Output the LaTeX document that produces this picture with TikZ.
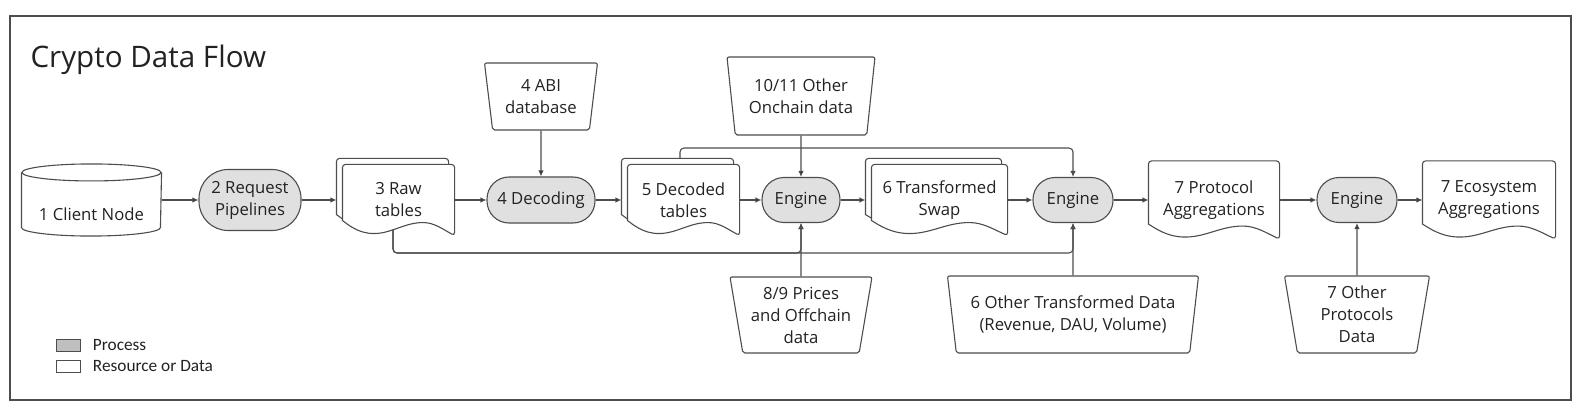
\documentclass[tikz,border=0pt]{standalone}
\usepackage{fontspec}
\setmainfont{Open Sans}
\newfontfamily\legendfont{Carlito}
\usepackage{tikz}
\usetikzlibrary{positioning, calc, arrows.meta, shapes.geometric, backgrounds}
\definecolor{linegray}{HTML}{4D4D4D}
\definecolor{procfill}{HTML}{E0E0E0}
\definecolor{legfill}{HTML}{BFBFBF}
\definecolor{textgray}{HTML}{222222}
\tikzstyle{flow} = [line width=1.1pt, draw=linegray, -{Latex[length=6pt,width=5.5pt]}]
\tikzstyle{proc} = [rectangle, rounded corners=22pt, draw=linegray, fill=procfill, minimum height=45pt, align=center]
\tikzstyle{doc} = [rectangle, align=center, minimum height=77pt]
\tikzstyle{multidoc} = [doc, minimum height=70pt]
\tikzstyle{docbox} = [draw=linegray, line width=1.1pt, fill=white]
\tikzstyle{manual} = [trapezium, trapezium stretches body, trapezium angle=78, shape border rotate=180, draw=linegray, rounded corners=2pt, align=center, inner sep=2pt]
\tikzstyle{legtext} = [font=\legendfont\fontsize{17.3}{20}\selectfont, inner sep=0pt]

% outline of a document with a wavy bottom, round a named node
\newcommand{\docline}[1]{($(#1.south west)+(0,15pt)$) [rounded corners=3pt] -- (#1.north west) -- (#1.north east) -- (#1.south east) [sharp corners]
 .. controls ($(#1.south west)!0.9!(#1.south east)+(0,6pt)$) and ($(#1.south west)!0.82!(#1.south east)+(0,13pt)$) .. ($(#1.south west)!0.72!(#1.south east)+(0,13pt)$)
 .. controls ($(#1.south west)!0.55!(#1.south east)+(0,13pt)$) and ($(#1.south west)!0.44!(#1.south east)+(0,2pt)$) .. ($(#1.south west)!0.28!(#1.south east)+(0,2pt)$)
 .. controls ($(#1.south west)!0.14!(#1.south east)+(0,2pt)$) and ($(#1.south west)!0.05!(#1.south east)+(0,11pt)$) .. cycle}

\begin{document}
\begin{tikzpicture}[x=1pt, y=1pt, on grid, line width=1.1pt,
   every node/.style={font=\fontsize{16.7}{22}\selectfont, text=textgray}]
   \useasboundingbox (0,0) rectangle (1580,413);
   \draw[linegray] (10,13) rectangle (1571,397);
   \node[anchor=base west, inner sep=0pt, font=\fontsize{29.6}{35}\selectfont] (title) at (30,345) {Crypto Data Flow};

   % main row
   \node[minimum width=139pt, minimum height=54pt, text height=41pt, text depth=0pt, inner sep=0pt] (client) at (91.5,213) {1 Client Node};
   \node[proc, minimum width=102pt, minimum height=61pt, rounded corners=29pt] (req) [right=158.5pt of client] {2 Request\\Pipelines};
   \node[multidoc, minimum width=111pt] (raw) [right=148.5pt of req] {3 Raw\\tables};
   \node[proc, minimum width=108pt, minimum height=46pt] (dec) [right=142.5pt of raw] {4 Decoding};
   \node[multidoc, minimum width=111pt] (dect) [right=142.5pt of dec] {5 Decoded\\tables};
   \node[proc, minimum width=78pt] (eng1) [right=117.5pt of dect] {Engine};
   \node[multidoc, minimum width=135pt] (swap) [right=138.5pt of eng1] {6 Transformed\\Swap};
   \node[proc, minimum width=80pt] (eng2) [right=133.5pt of swap] {Engine};
   \node[doc, minimum width=130pt] (proto) [right=141pt of eng2] {7 Protocol\\Aggregations};
   \node[proc, minimum width=80pt] (eng3) [right=143pt of proto] {Engine};
   \node[doc, minimum width=132pt] (eco) [right=132pt of eng3] {7 Ecosystem\\Aggregations};

   % inputs
   \node[manual, minimum width=113pt, minimum height=67pt] (abi) [above=103.5pt of dec] {4 ABI\\database};
   \node[manual, minimum width=148pt, minimum height=78pt] (onch) [above=104pt of eng1] {10/11 Other\\Onchain data};
   \node[manual, minimum width=142pt, minimum height=76pt] (prices) [below=115pt of eng1] {8/9 Prices\\and Offchain\\data};
   \node[manual, minimum width=251pt, minimum height=77pt] (othtr) [below=114.5pt of eng2] {6 Other Transformed Data\\(Revenue, DAU, Volume)};
   \node[manual, minimum width=145pt, minimum height=77pt] (othpr) [below=114.5pt of eng3] {7 Other\\Protocols\\Data};

   % legend
   \node[draw=linegray, line width=0.8pt, fill=legfill, minimum width=24pt, minimum height=12pt, inner sep=0pt] (legproc) at (68,68) {};
   \node[draw=linegray, line width=0.8pt, fill=white, minimum width=24pt, minimum height=12pt, inner sep=0pt] (legdata) [below=21.5pt of legproc] {};
   \node[legtext] (legproclabel) [right=12pt of legproc.east, anchor=west] {Process};
   \node[legtext] (legdatalabel) [right=12pt of legdata.east, anchor=west] {Resource or Data};

   \begin{scope}[on background layer]
   \draw[docbox, transform canvas={shift={(-6pt,6pt)}}] \docline{raw};
   \draw[docbox] \docline{raw};
   \draw[docbox, transform canvas={shift={(-6pt,6pt)}}] \docline{dect};
   \draw[docbox] \docline{dect};
   \draw[docbox, transform canvas={shift={(-6pt,6pt)}}] \docline{swap};
   \draw[docbox] \docline{swap};
   \draw[docbox] \docline{proto};
   \draw[docbox] \docline{eco};
   % cylinder
   \draw[docbox] (client.north west) -- (client.south west) arc[start angle=180, end angle=360, x radius=69.5pt, y radius=8.5pt] -- (client.north east);
   \draw[docbox] (client.north) ellipse [x radius=69.5pt, y radius=8.5pt];
   \end{scope}

   \coordinate (toprail) at (0,265);
   \coordinate (lowrail) at (0,160);
   \coordinate (dectout) at ($(dect.north)+(-3.5pt,6pt)$);
   \coordinate (rawout) at ($(raw.south)+(-5.5pt,6pt)$);

   \path[flow]
   (client) edge (req)
   (req) edge[shorten >=6pt] (raw)
   (raw) edge (dec)
   (dec) edge[shorten >=6pt] (dect)
   (dect) edge (eng1)
   (eng1) edge[shorten >=6pt] (swap)
   (swap) edge (eng2)
   (eng2) edge (proto)
   (proto) edge (eng3)
   (eng3) edge (eco)
   (abi) edge (dec)
   (onch) edge (eng1)
   (prices) edge (eng1)
   (othtr) edge (eng2)
   (othpr) edge (eng3);
   \draw[flow, rounded corners=4pt] (dectout) |- (eng2.north |- toprail) -- (eng2.north);
   \draw[flow, rounded corners=4pt] (rawout) |- (eng1.south |- lowrail) -- (eng1.south);
   \draw[flow, rounded corners=4pt] (rawout) |- (eng2.south |- lowrail) -- (eng2.south);
\end{tikzpicture}
\end{document}
